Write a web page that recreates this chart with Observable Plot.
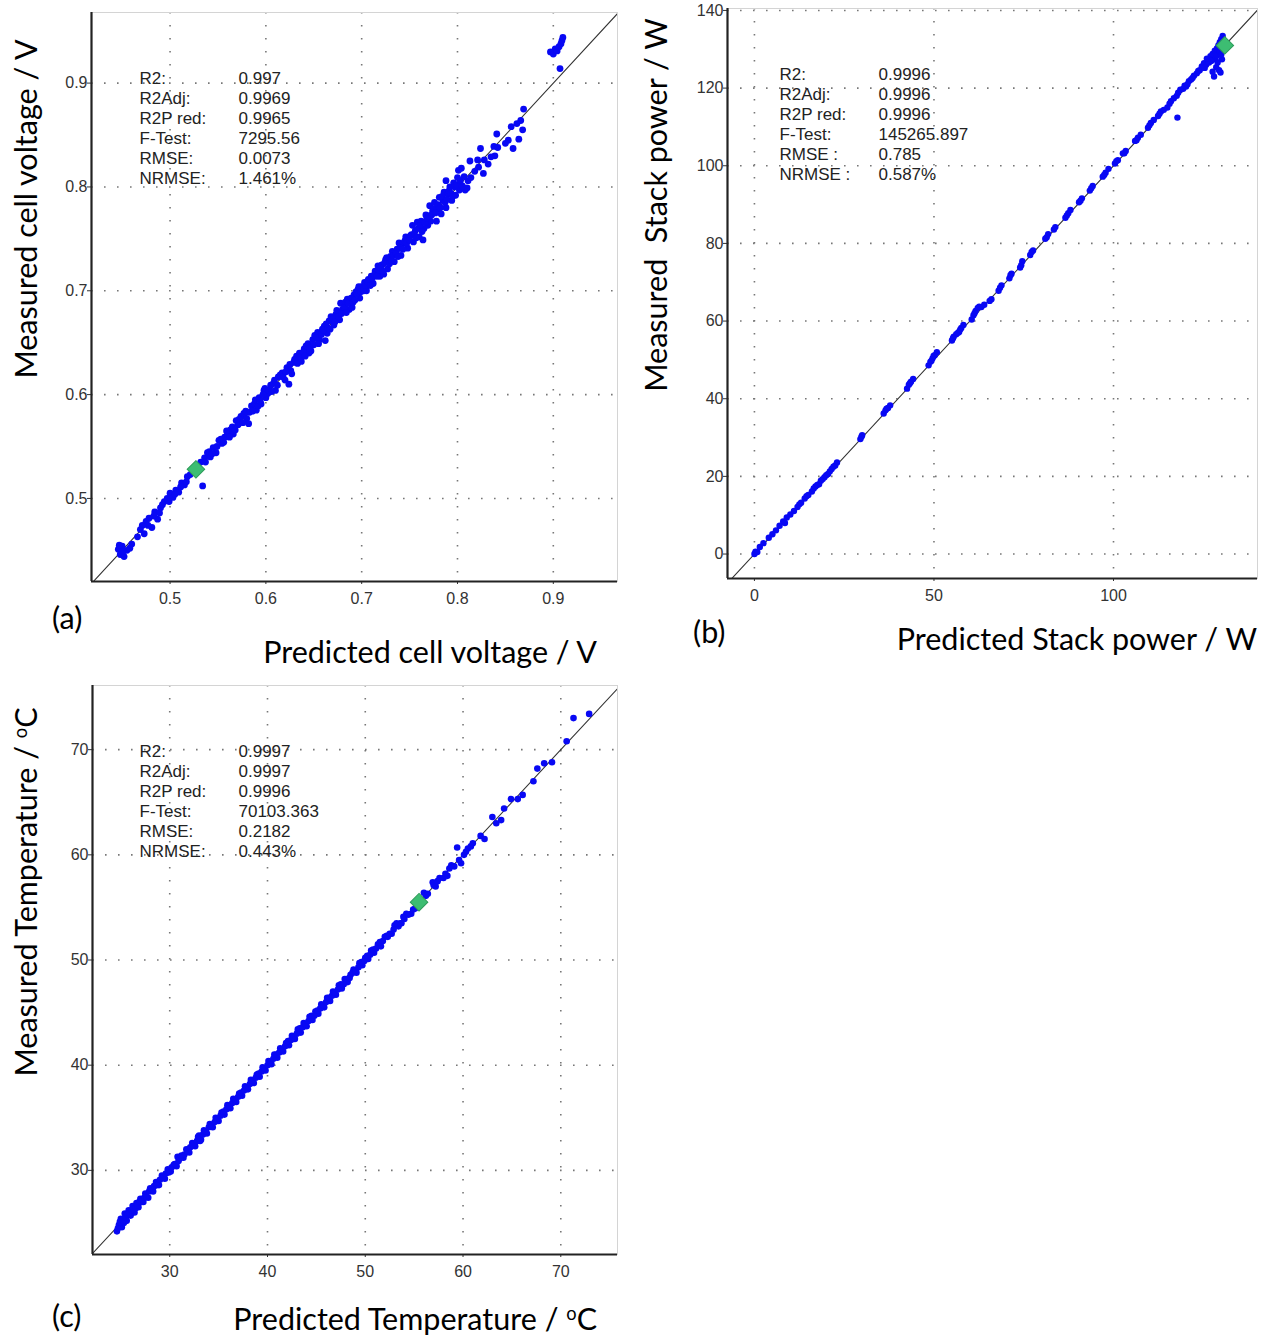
<!DOCTYPE html>
<html><head><meta charset="utf-8">
<script src="https://cdn.jsdelivr.net/npm/d3@7"></script>
<script src="https://cdn.jsdelivr.net/npm/@observablehq/plot@0.6"></script>
<style>
body{margin:0;background:#fff;}
#wrap{position:relative;width:1274px;height:1337px;overflow:hidden;background:#fff;}
.panel{position:absolute;}
.lab{position:absolute;font-family:Lato,"Open Sans",sans-serif;font-size:30.5px;color:#000;white-space:nowrap;line-height:1;}
sup{font-size:0.6em;vertical-align:0.55em;line-height:0;}
</style></head><body><div id="wrap"></div>
<script>
// ---------- data ----------
const statNames = ["R2:", "R2Adj:", "R2P red:", "F-Test:", "RMSE:", "NRMSE:"];
const statNamesB = ["R2:", "R2Adj:", "R2P red:", "F-Test:", "RMSE :", "NRMSE :"];
const voltageStats = ["0.997", "0.9969", "0.9965", "7295.56", "0.0073", "1.461%"];
const powerStats = ["0.9996", "0.9996", "0.9996", "145265.897", "0.785", "0.587%"];
const temperatureStats = ["0.9997", "0.9997", "0.9996", "70103.363", "0.2182", "0.443%"];

const voltageTicks = [0.5, 0.6, 0.7, 0.8, 0.9];
const powerTicksX = [0, 50, 100];
const powerTicksY = [0, 20, 40, 60, 80, 100, 120, 140];
const temperatureTicks = [30, 40, 50, 60, 70];

// [predicted, measured]
const voltagePoints = [
[0.446,0.451],[0.448,0.446],[0.450,0.454],[0.452,0.444],[0.455,0.450],[0.460,0.456],[0.466,0.463],[0.471,0.474],[0.473,0.466],[0.475,0.478],
[0.478,0.481],[0.481,0.472],[0.484,0.487],[0.487,0.480],[0.490,0.491],[0.494,0.497],[0.497,0.500],[0.500,0.505],[0.503,0.501],[0.506,0.508],
[0.509,0.506],[0.512,0.515],[0.515,0.513],[0.518,0.521],[0.521,0.523],[0.534,0.512],[0.532,0.535],[0.536,0.539],[0.539,0.544],[0.542,0.540],
[0.545,0.549],[0.548,0.544],[0.551,0.556],[0.554,0.553],[0.557,0.559],[0.560,0.562],[0.563,0.566],[0.566,0.562],[0.569,0.575],[0.571,0.571],
[0.574,0.579],[0.577,0.582],[0.580,0.577],[0.582,0.572],[0.585,0.589],[0.588,0.591],[0.590,0.585],[0.593,0.597],[0.595,0.591],[0.598,0.604],
[0.600,0.597],[0.602,0.601],[0.605,0.609],[0.608,0.611],[0.610,0.604],[0.613,0.617],[0.617,0.621],[0.620,0.614],[0.624,0.610],[0.622,0.626],
[0.626,0.623],[0.629,0.631],[0.632,0.637],[0.635,0.640],[0.637,0.632],[0.640,0.644],[0.642,0.647],[0.645,0.640],[0.647,0.642],[0.649,0.653],
[0.651,0.657],[0.654,0.660],[0.656,0.653],[0.659,0.663],[0.661,0.666],[0.662,0.652],[0.664,0.659],[0.666,0.671],[0.668,0.675],[0.671,0.667],
[0.673,0.677],[0.675,0.679],[0.677,0.672],[0.678,0.688],[0.680,0.682],[0.683,0.689],[0.685,0.692],[0.687,0.682],[0.690,0.684],[0.692,0.696],
[0.694,0.699],[0.696,0.701],[0.698,0.693],[0.700,0.704],[0.703,0.708],[0.705,0.700],[0.707,0.711],[0.710,0.714],[0.712,0.707],[0.714,0.719],
[0.717,0.724],[0.719,0.714],[0.721,0.725],[0.723,0.716],[0.725,0.730],[0.727,0.721],[0.730,0.733],[0.732,0.738],[0.734,0.728],[0.737,0.740],
[0.739,0.746],[0.741,0.734],[0.744,0.746],[0.746,0.752],[0.748,0.741],[0.751,0.753],[0.753,0.763],[0.754,0.747],[0.756,0.758],[0.758,0.766],
[0.760,0.752],[0.762,0.767],[0.764,0.749],[0.765,0.760],[0.767,0.773],[0.769,0.763],[0.771,0.782],[0.772,0.767],[0.774,0.777],[0.776,0.785],
[0.778,0.767],[0.779,0.779],[0.781,0.790],[0.783,0.774],[0.785,0.787],[0.786,0.795],[0.788,0.780],[0.788,0.806],[0.790,0.793],[0.792,0.800],
[0.794,0.787],[0.796,0.804],[0.798,0.792],[0.800,0.809],[0.801,0.816],[0.802,0.797],[0.804,0.818],[0.808,0.797],[0.811,0.806],[0.813,0.825],
[0.822,0.819],[0.824,0.837],[0.827,0.813],[0.832,0.822],[0.838,0.839],[0.839,0.830],[0.841,0.851],[0.853,0.845],[0.858,0.837],[0.864,0.846],
[0.866,0.864],[0.868,0.855],[0.869,0.875],[0.897,0.930],[0.900,0.928],[0.902,0.933],[0.904,0.931],[0.906,0.935],[0.908,0.938],[0.909,0.941],
[0.910,0.944],[0.907,0.914],
[0.447,0.455],[0.451,0.449],[0.458,0.452],[0.469,0.470],[0.477,0.474],[0.483,0.483],[0.489,0.486],[0.492,0.494],[0.499,0.497],[0.505,0.504],
[0.511,0.511],[0.517,0.516],[0.524,0.526],[0.537,0.535],[0.541,0.545],[0.544,0.543],[0.549,0.550],[0.553,0.557],[0.556,0.554],[0.559,0.565],
[0.562,0.559],[0.565,0.569],[0.568,0.566],[0.572,0.576],[0.576,0.573],[0.579,0.584],[0.583,0.583],[0.586,0.584],[0.589,0.595],[0.592,0.589],
[0.594,0.594],[0.597,0.600],[0.599,0.606],[0.603,0.604],[0.606,0.603],[0.609,0.614],[0.612,0.609],[0.615,0.619],[0.618,0.617],[0.621,0.622],
[0.625,0.629],[0.627,0.620],[0.630,0.634],[0.633,0.630],[0.636,0.636],[0.639,0.641],[0.641,0.637],[0.644,0.649],[0.646,0.645],[0.650,0.648],
[0.653,0.655],[0.655,0.649],[0.658,0.658],[0.660,0.662],[0.663,0.668],[0.665,0.664],[0.667,0.663],[0.670,0.673],[0.672,0.670],[0.674,0.681],
[0.676,0.675],[0.679,0.678],[0.682,0.684],[0.684,0.679],[0.686,0.688],[0.689,0.693],[0.691,0.689],[0.693,0.691],[0.695,0.697],[0.697,0.704],
[0.699,0.699],[0.702,0.700],[0.704,0.705],[0.706,0.709],[0.709,0.705],[0.711,0.712],[0.713,0.715],[0.716,0.714],[0.718,0.720],[0.720,0.722],
[0.722,0.719],[0.724,0.727],[0.726,0.732],[0.729,0.726],[0.731,0.729],[0.733,0.734],[0.736,0.736],[0.738,0.733],[0.740,0.741],[0.743,0.740],
[0.745,0.748],[0.747,0.746],[0.750,0.749],[0.752,0.754],[0.755,0.755],[0.757,0.751],[0.759,0.760],[0.761,0.763],[0.763,0.757],[0.766,0.766],
[0.768,0.770],[0.770,0.772],[0.773,0.773],[0.775,0.779],[0.777,0.775],[0.780,0.783],[0.782,0.780],[0.784,0.791],[0.787,0.785],[0.789,0.788],
[0.791,0.796],[0.793,0.794],[0.795,0.791],[0.797,0.800],[0.799,0.802],[0.803,0.806],[0.805,0.801],[0.807,0.810],[0.810,0.799],[0.814,0.809],
[0.818,0.815],[0.821,0.826],[0.828,0.826],[0.835,0.829],[0.842,0.838],[0.850,0.842],[0.856,0.858],[0.862,0.861]
];
const voltageHighlight = [[0.527, 0.528]];

const powerPoints = [
[0,0],[0.3,0.6],[1.5,1.8],[4,4.2],[6,6.1],[8,8.4],[8.5,8],[10,10.2],[12,12.1],[12.5,12.8],
[14,14.3],[15,15.2],[16,16.1],[17,17.4],[18,18],[19,19.3],[19.5,19.8],[20.5,20.6],[21.5,21.9],[22.5,22.8],
[23,23.6],[29.5,29.6],[30,30.6],[36,36.2],[36.5,37],[37.2,37.6],[37.8,38.3],[42.5,42.6],[43,43.6],[43.6,44.4],
[44.2,45.1],[48.5,48.6],[49,49.5],[49.6,50.4],[50.2,51.2],[50.8,52],[55,55],[55.5,56],[56.2,56.6],[57,57.2],
[57.6,58.2],[58.2,59],[60.5,60.4],[61,61.5],[61.6,62.6],[62.2,63.4],[63.2,63.6],[64,64.2],[66,65.6],[68,67.8],
[68.8,69.2],[71,71],[71.6,72.2],[74,73.8],[74.6,75.4],[76.8,77],[77.6,78.2],[81,81.2],[81.8,82.4],[83.4,83.6],
[86.6,86.6],[87.4,87.8],[88,88.6],[90.4,90.6],[91.2,91.6],[93.4,93.6],[94.2,94.8],[97,97.2],[97.8,98.2],[98.6,99.2],
[100.4,100.6],[101.2,101.4],[102.6,103.2],[103.4,103.8],[106,106.4],[106.8,107.2],[107.6,108],[109.6,109.8],[110.4,111],[111.2,111.8],
[112.4,112.8],[113.2,114],[114,114.4],[115,115],[117.8,112.4],[116,116.6],[116.8,117.4],[117.6,118],[118.6,119.6],[119.4,119.8],
[120.2,120.4],[121,121.8],[121.6,122.2],[122.4,123.2],[123.2,123.8],[124,124.6],[124.6,125.6],[125.2,126.4],[125.8,126],[126.4,127.2],
[126.6,126.6],[127,128.2],[127.6,128.8],[128.2,129.6],[128.4,127.4],[128.8,130.2],[129.2,131],[129.6,131.8],[130,132.6],[130.4,133.4],
[129.4,124.6],[128.6,125.4],[127.6,124.2],[129.8,124],[129,126.6],[130.2,127.4],[128,123],
[0.8,0.5],[2.5,2.8],[5,5.1],[7,7.3],[9,9.4],[11,11.1],[13,13.2],[14.5,14.9],[16.5,16.9],[17.5,17.8],
[18.5,18.9],[20,20.3],[21,21.3],[22,22.5],[29.8,30.2],[36.8,37.4],[43.3,44],[49.3,49.8],[49.9,51],[55.3,55.6],
[56.7,57],[57.3,57.8],[61.3,62],[62.6,63.7],[65.5,65.2],[68.4,68.6],[71.3,71.8],[74.3,74.4],[77.2,77.8],[81.4,81.6],
[83.8,84.2],[87,87.2],[90.8,91],[93.8,94.2],[97.4,97.6],[100.8,101.2],[103,103.2],[106.4,106.6],[110,110.4],[112.8,113.4],
[115.6,116],[118,118.8],[119.8,120.6],[120.6,121],[122,122.6],[123.6,124.4],[125.4,125.2],[126,127.6],[127.2,127],[128.8,128.4],
[129.6,129.4],[130.4,131.4],[130,128.6]
];
const powerHighlight = [[131, 131]];

const temperaturePoints = [
[24.6,24.2],[24.8,24.8],[25.0,25.4],[25.1,24.6],[25.3,25.0],[25.4,25.9],[25.6,25.2],[25.8,26.2],[26.0,25.7],[26.2,26.6],
[26.4,26.0],[26.6,26.9],[26.8,26.5],[27.0,27.3],[27.3,27.0],[27.5,27.8],[27.8,27.4],[28.0,28.3],[28.3,28.0],[28.6,28.9],
[28.9,28.6],[29.2,29.5],[29.5,29.2],[29.8,30.1],[30.1,29.9],[30.4,30.5],[30.8,31.3],[30.7,30.4],[31.0,31.1],[31.4,31.2],
[31.7,32.0],[32.0,31.7],[32.3,32.6],[32.6,32.3],[32.9,33.2],[33.2,32.9],[33.5,33.8],[33.8,33.5],[34.1,34.4],[34.4,34.1],
[34.7,35.0],[35.0,34.7],[35.3,35.5],[35.6,35.3],[35.9,36.2],[36.2,35.9],[36.5,36.8],[36.8,36.5],[37.1,37.3],[37.4,37.1],
[37.7,38.0],[38.0,37.7],[38.3,38.6],[38.6,38.3],[38.9,39.1],[39.2,38.9],[39.5,39.8],[39.8,39.5],[40.1,40.4],[40.4,40.1],
[40.7,41.0],[41.0,40.7],[41.3,41.6],[41.6,41.3],[41.9,42.1],[42.2,41.9],[42.5,42.8],[42.8,42.5],[43.1,43.4],[43.4,43.1],
[43.7,44.0],[44.0,43.7],[44.3,44.6],[44.6,44.3],[44.9,45.1],[45.2,44.9],[45.5,45.8],[45.8,45.5],[46.1,46.4],[46.4,46.1],
[46.7,47.0],[47.0,46.7],[47.3,47.6],[47.6,47.3],[47.9,48.2],[48.2,47.9],[48.5,48.6],[48.8,49.1],[49.1,48.8],[49.4,49.7],
[49.7,49.5],[50.0,50.2],[50.3,50.1],[50.6,50.9],[50.9,50.7],[51.3,51.5],[51.6,51.3],[52.0,52.2],[52.3,52.2],[52.7,52.5],
[53.0,53.3],[53.4,53.2],[53.7,53.5],[54.0,53.9],[54.2,54.4],[54.7,54.4],[55.1,54.9],[56.0,56.4],[56.4,56.3],[56.9,57.4],
[57.2,57.0],[57.6,57.8],[58.0,57.8],[58.4,58.0],[58.6,58.7],[59.1,58.9],[59.4,60.7],[59.8,59.2],[60.1,60.0],[60.5,60.6],
[60.8,60.8],[61.8,61.8],[62.2,61.5],[63.0,63.6],[63.4,63.0],[63.9,63.3],[64.2,64.4],[64.9,65.3],[65.6,65.3],[66.1,65.7],
[67.2,67.0],[67.6,68.2],[68.3,68.7],[69.1,68.8],[70.6,70.8],[71.3,73.0],[72.9,73.4],
[24.7,24.5],[24.9,25.1],[25.2,25.2],[25.5,25.5],[25.7,25.8],[25.9,25.9],[26.1,26.2],[26.3,26.3],[26.5,26.4],[26.7,26.7],
[26.9,27.0],[27.1,27.0],[27.4,27.4],[27.6,27.5],[27.9,28.0],[28.2,28.2],[28.4,28.5],[28.7,28.6],[29.0,29.1],[29.3,29.3],
[29.6,29.7],[29.9,29.8],[30.2,30.3],[30.5,30.6],[30.9,30.9],[31.2,31.4],[31.5,31.5],[31.8,31.8],[32.1,32.2],[32.4,32.4],
[32.8,32.8],[33.0,33.3],[33.1,32.8],[33.4,33.4],[33.7,33.7],[34.0,34.1],[34.3,34.3],[34.6,34.6],[34.9,34.9],[35.2,35.2],
[35.5,35.6],[35.8,35.8],[36.1,36.1],[36.4,36.4],[36.7,36.7],[37.0,37.0],[37.3,37.4],[37.6,37.6],[37.9,37.9],[38.2,38.2],
[38.5,38.5],[38.8,38.8],[39.1,39.2],[39.4,39.4],[39.7,39.7],[40.0,40.0],[40.3,40.3],[40.6,40.6],[40.9,41.0],[41.2,41.2],
[41.5,41.5],[41.8,41.8],[42.1,42.3],[42.4,42.4],[42.7,42.6],[43.0,43.0],[43.3,43.5],[43.6,43.6],[43.9,43.9],[44.2,44.2],
[44.5,44.7],[44.8,44.7],[45.1,45.2],[45.4,45.4],[45.7,45.7],[46.0,46.0],[46.3,46.4],[46.6,46.6],[46.9,46.9],[47.2,47.2],
[47.5,47.7],[47.8,47.7],[48.1,48.2],[48.4,48.3],[48.7,48.8],[49.0,49.0],[49.3,49.3],[49.6,49.8],[49.9,49.9],[50.2,50.4],
[50.5,50.5],[50.8,51.0],[51.1,51.1],[51.5,51.7],[51.8,51.8],[52.2,52.3],[52.5,52.5],[52.9,52.9],[53.2,53.5],[53.6,53.5],
[53.9,54.1],[54.4,54.3],[54.9,54.8],[56.2,56.1],[57.0,57.1],[57.4,57.5],[58.2,58.2],[58.8,59.0],[59.6,59.5],[60.3,60.3],
[61.0,61.1]
];
const temperatureHighlight = [[55.5, 55.5]];

// ---------- drawing ----------
const wrap = document.getElementById("wrap");

function scatter(o) {
  const [x0, x1] = o.xDomain, [y0, y1] = o.yDomain;
  const lo = Math.min(x0, y0), hi = Math.max(x1, y1);
  const diag = [[lo, lo], [hi, hi]];
  const statMarks = [];
  o.names.forEach((t, i) => {
    statMarks.push(Plot.text([t], {text: d => d, frameAnchor: "top-left", dx: o.statDx, dy: o.statDy + i * 20,
      textAnchor: "start", lineAnchor: "middle", fontSize: 17, fill: "#222"}));
    statMarks.push(Plot.text([o.stats[i]], {text: d => d, frameAnchor: "top-left", dx: o.statDx + 99, dy: o.statDy + i * 20,
      textAnchor: "start", lineAnchor: "middle", fontSize: 17, fill: "#222"}));
  });
  const svg = Plot.plot({
    width: o.width, height: o.height,
    marginLeft: o.m[0], marginTop: o.m[1], marginRight: o.m[2], marginBottom: o.m[3],
    style: {fontFamily: "'Liberation Sans', Arial, sans-serif", fontSize: "16px", color: "#333", background: "#fff"},
    x: {domain: o.xDomain},
    y: {domain: o.yDomain},
    marks: [
      Plot.gridX(o.xTicks, {stroke: "#777", strokeOpacity: 1, strokeWidth: 1.6, strokeDasharray: "1.6,11.4"}),
      Plot.gridY(o.yTicks, {stroke: "#777", strokeOpacity: 1, strokeWidth: 1.6, strokeDasharray: "1.6,11.4"}),
      Plot.frame({stroke: "#d4d4d4"}),
      Plot.axisX(o.xTicks, {tickFormat: o.fmt, tickSize: 3, tickPadding: 8, label: null, stroke: "#333", fill: "#333"}),
      Plot.axisY(o.yTicks, {tickFormat: o.fmt, tickSize: 4, tickPadding: 0, label: null, stroke: "#333", fill: "#333"}),
      Plot.line(diag, {x: d => d[0], y: d => d[1], stroke: "#333", strokeWidth: 1.1, clip: true}),
      Plot.dot(o.points, {x: d => d[0], y: d => d[1], r: o.r, fill: "#0808f4", stroke: "none"}),
      Plot.dot(o.highlight, {x: d => d[0], y: d => d[1], symbol: "square", rotate: 45, r: 7, fill: "#3dbd72", stroke: "#2c9a58", strokeWidth: 1}),
      Plot.ruleX([x0], {stroke: "#222", strokeWidth: 2.2}),
      Plot.ruleY([y0], {stroke: "#222", strokeWidth: 2.2}),
      ...statMarks
    ]
  });
  svg.classList.add("panel");
  svg.style.left = o.left + "px";
  svg.style.top = o.top + "px";
  wrap.appendChild(svg);
}

scatter({left: 0, top: 0, width: 640, height: 630, m: [91, 12, 23, 49],
  xDomain: [0.418, 0.967], yDomain: [0.42, 0.968], xTicks: voltageTicks, yTicks: voltageTicks,
  fmt: d3.format(".1f"), points: voltagePoints, highlight: voltageHighlight, r: 3.4,
  names: statNames, stats: voltageStats, statDx: 48, statDy: 66});

scatter({left: 640, top: 0, width: 634, height: 630, m: [87, 8, 17, 52],
  xDomain: [-7.5, 140.1], yDomain: [-6.3, 140.5], xTicks: powerTicksX, yTicks: powerTicksY,
  fmt: d3.format("d"), points: powerPoints, highlight: powerHighlight, r: 3.2,
  names: statNamesB, stats: powerStats, statDx: 52, statDy: 66});

scatter({left: 0, top: 670, width: 640, height: 630, m: [92, 15, 23, 46],
  xDomain: [22.1, 75.8], yDomain: [22.0, 76.1], xTicks: temperatureTicks, yTicks: temperatureTicks,
  fmt: d3.format("d"), points: temperaturePoints, highlight: temperatureHighlight, r: 3.3,
  names: statNames, stats: temperatureStats, statDx: 47, statDy: 66});

// ---------- text labels ----------
function label(html, css) {
  const d = document.createElement("div");
  d.className = "lab";
  d.innerHTML = html;
  Object.assign(d.style, css);
  wrap.appendChild(d);
}
const rot = "translate(-50%,-50%) rotate(-90deg)";
const right = "translate(-100%,-50%)";
const leftMid = "translate(0,-50%)";
label("Measured cell voltage / V", {left: "25px", top: "209px", transform: rot});
label("Predicted cell voltage / V", {left: "597px", top: "651px", transform: right});
label("(a)", {left: "52px", top: "617px", transform: leftMid});
label("Measured&nbsp; Stack power / W", {left: "655px", top: "205px", transform: rot});
label("Predicted Stack power / W", {left: "1257px", top: "638px", transform: right});
label("(b)", {left: "693px", top: "631px", transform: leftMid});
label("Measured Temperature / <sup>o</sup>C", {left: "25px", top: "892px", transform: rot});
label("Predicted Temperature / <sup>o</sup>C", {left: "597px", top: "1318px", transform: right});
label("(c)", {left: "52px", top: "1315px", transform: leftMid});
</script>
</body></html>
